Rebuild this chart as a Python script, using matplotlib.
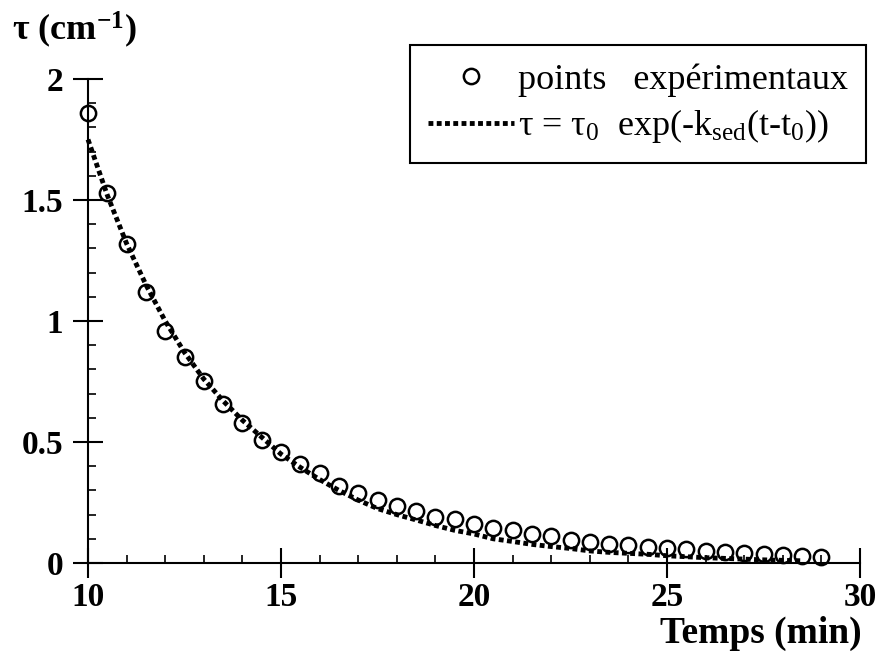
import numpy as np
import matplotlib
matplotlib.use('Agg')
import matplotlib.pyplot as plt
from matplotlib.ticker import MultipleLocator, FixedLocator

plt.rcParams['font.family'] = ['Liberation Serif', 'DejaVu Serif']
plt.rcParams['mathtext.default'] = 'regular'

# points expérimentaux (t en min, tau en cm-1)
t_exp = [10, 10.5, 11, 11.5, 12, 12.5, 13, 13.5, 14, 14.5,
         15, 15.5, 16, 16.5, 17, 17.5, 18, 18.5, 19, 19.5,
         20, 20.5, 21, 21.5, 22, 22.5, 23, 23.5, 24, 24.5,
         25, 25.5, 26, 26.5, 27, 27.5, 28, 28.5, 29]
tau_exp = [1.86, 1.53, 1.32, 1.12, 0.96, 0.85, 0.75, 0.655, 0.58, 0.51,
           0.46, 0.41, 0.37, 0.32, 0.29, 0.26, 0.235, 0.215, 0.19, 0.18,
           0.16, 0.145, 0.135, 0.118, 0.11, 0.095, 0.088, 0.08, 0.073, 0.068,
           0.062, 0.056, 0.05, 0.046, 0.042, 0.037, 0.033, 0.028, 0.024]

# courbe ajustée
t_fit = [10, 10.5, 11, 11.5, 12, 12.5, 13, 13.5, 14, 14.5,
         15, 15.5, 16, 16.5, 17, 17.5, 18, 18.5, 19, 19.5,
         20, 20.5, 21, 21.5, 22, 22.5, 23, 23.5, 24, 24.5,
         25, 25.5, 26, 26.5, 27, 27.5, 28, 28.5]
tau_fit = [1.75, 1.52, 1.32, 1.15, 1.00, 0.87, 0.76, 0.67, 0.59, 0.52,
           0.45, 0.395, 0.345, 0.30, 0.26, 0.225, 0.20, 0.178, 0.155, 0.135,
           0.12, 0.10, 0.089, 0.077, 0.068, 0.06, 0.05, 0.044, 0.04, 0.036,
           0.03, 0.026, 0.022, 0.019, 0.016, 0.013, 0.011, 0.009]

xticks = [10, 15, 20, 25, 30]
yticks = [0, 0.5, 1, 1.5, 2]
ylabels = ['0', '0.5', '1', '1.5', '2']

fig = plt.figure(figsize=(8.82, 6.55), dpi=100)
ax = fig.add_axes([88/882, 92/655, 772/882, 484/655])

ax.plot(t_fit, tau_fit, color='black', lw=3.5, linestyle=(0, (1, 0.7)),
        label=r'$\tau$ = $\tau_0$  exp(-k$_{sed}$(t-t$_0$))', clip_on=False, zorder=3)
ax.plot(t_exp, tau_exp, 'o', ms=11, mfc='none', mec='black', mew=1.8,
        label='points   expérimentaux', clip_on=False, zorder=2)

ax.set_xlim(10, 30)
ax.set_ylim(0, 2)
for s in ['top', 'right']:
    ax.spines[s].set_visible(False)
for s in ['left', 'bottom']:
    ax.spines[s].set_linewidth(1.5)

ax.xaxis.set_major_locator(FixedLocator(xticks))
ax.xaxis.set_minor_locator(MultipleLocator(1))
ax.yaxis.set_major_locator(FixedLocator(yticks))
ax.set_yticklabels(ylabels)
ax.yaxis.set_minor_locator(MultipleLocator(0.1))
ax.tick_params(which='major', direction='inout', length=22, width=1.5, pad=7,
               labelsize=24)
ax.tick_params(axis='x', which='major', pad=3)
ax.tick_params(which='minor', direction='in', length=6, width=1.2)
for lab in ax.get_xticklabels() + ax.get_yticklabels():
    lab.set_fontweight('bold')

h, l = ax.get_legend_handles_labels()
leg = ax.legend(h[::-1], l[::-1], loc='upper right', bbox_to_anchor=(866/882, 1 - 45/655),
                bbox_transform=fig.transFigure, fontsize=26, frameon=True, fancybox=False,
                edgecolor='black', framealpha=1, handlelength=2.4, handletextpad=0.1,
                borderpad=0.5, labelspacing=0.3, borderaxespad=0)
leg.get_frame().set_linewidth(1.5)

fig.text(12/882, 1 - 40/655, r'$\tau$ (cm$^{-1}$)', fontsize=26, fontweight='bold',
         ha='left', va='baseline')
fig.text(862/882, 1 - 643/655, 'Temps (min)', fontsize=27, fontweight='bold',
         ha='right', va='baseline')

fig.savefig('out.png', dpi=100)
